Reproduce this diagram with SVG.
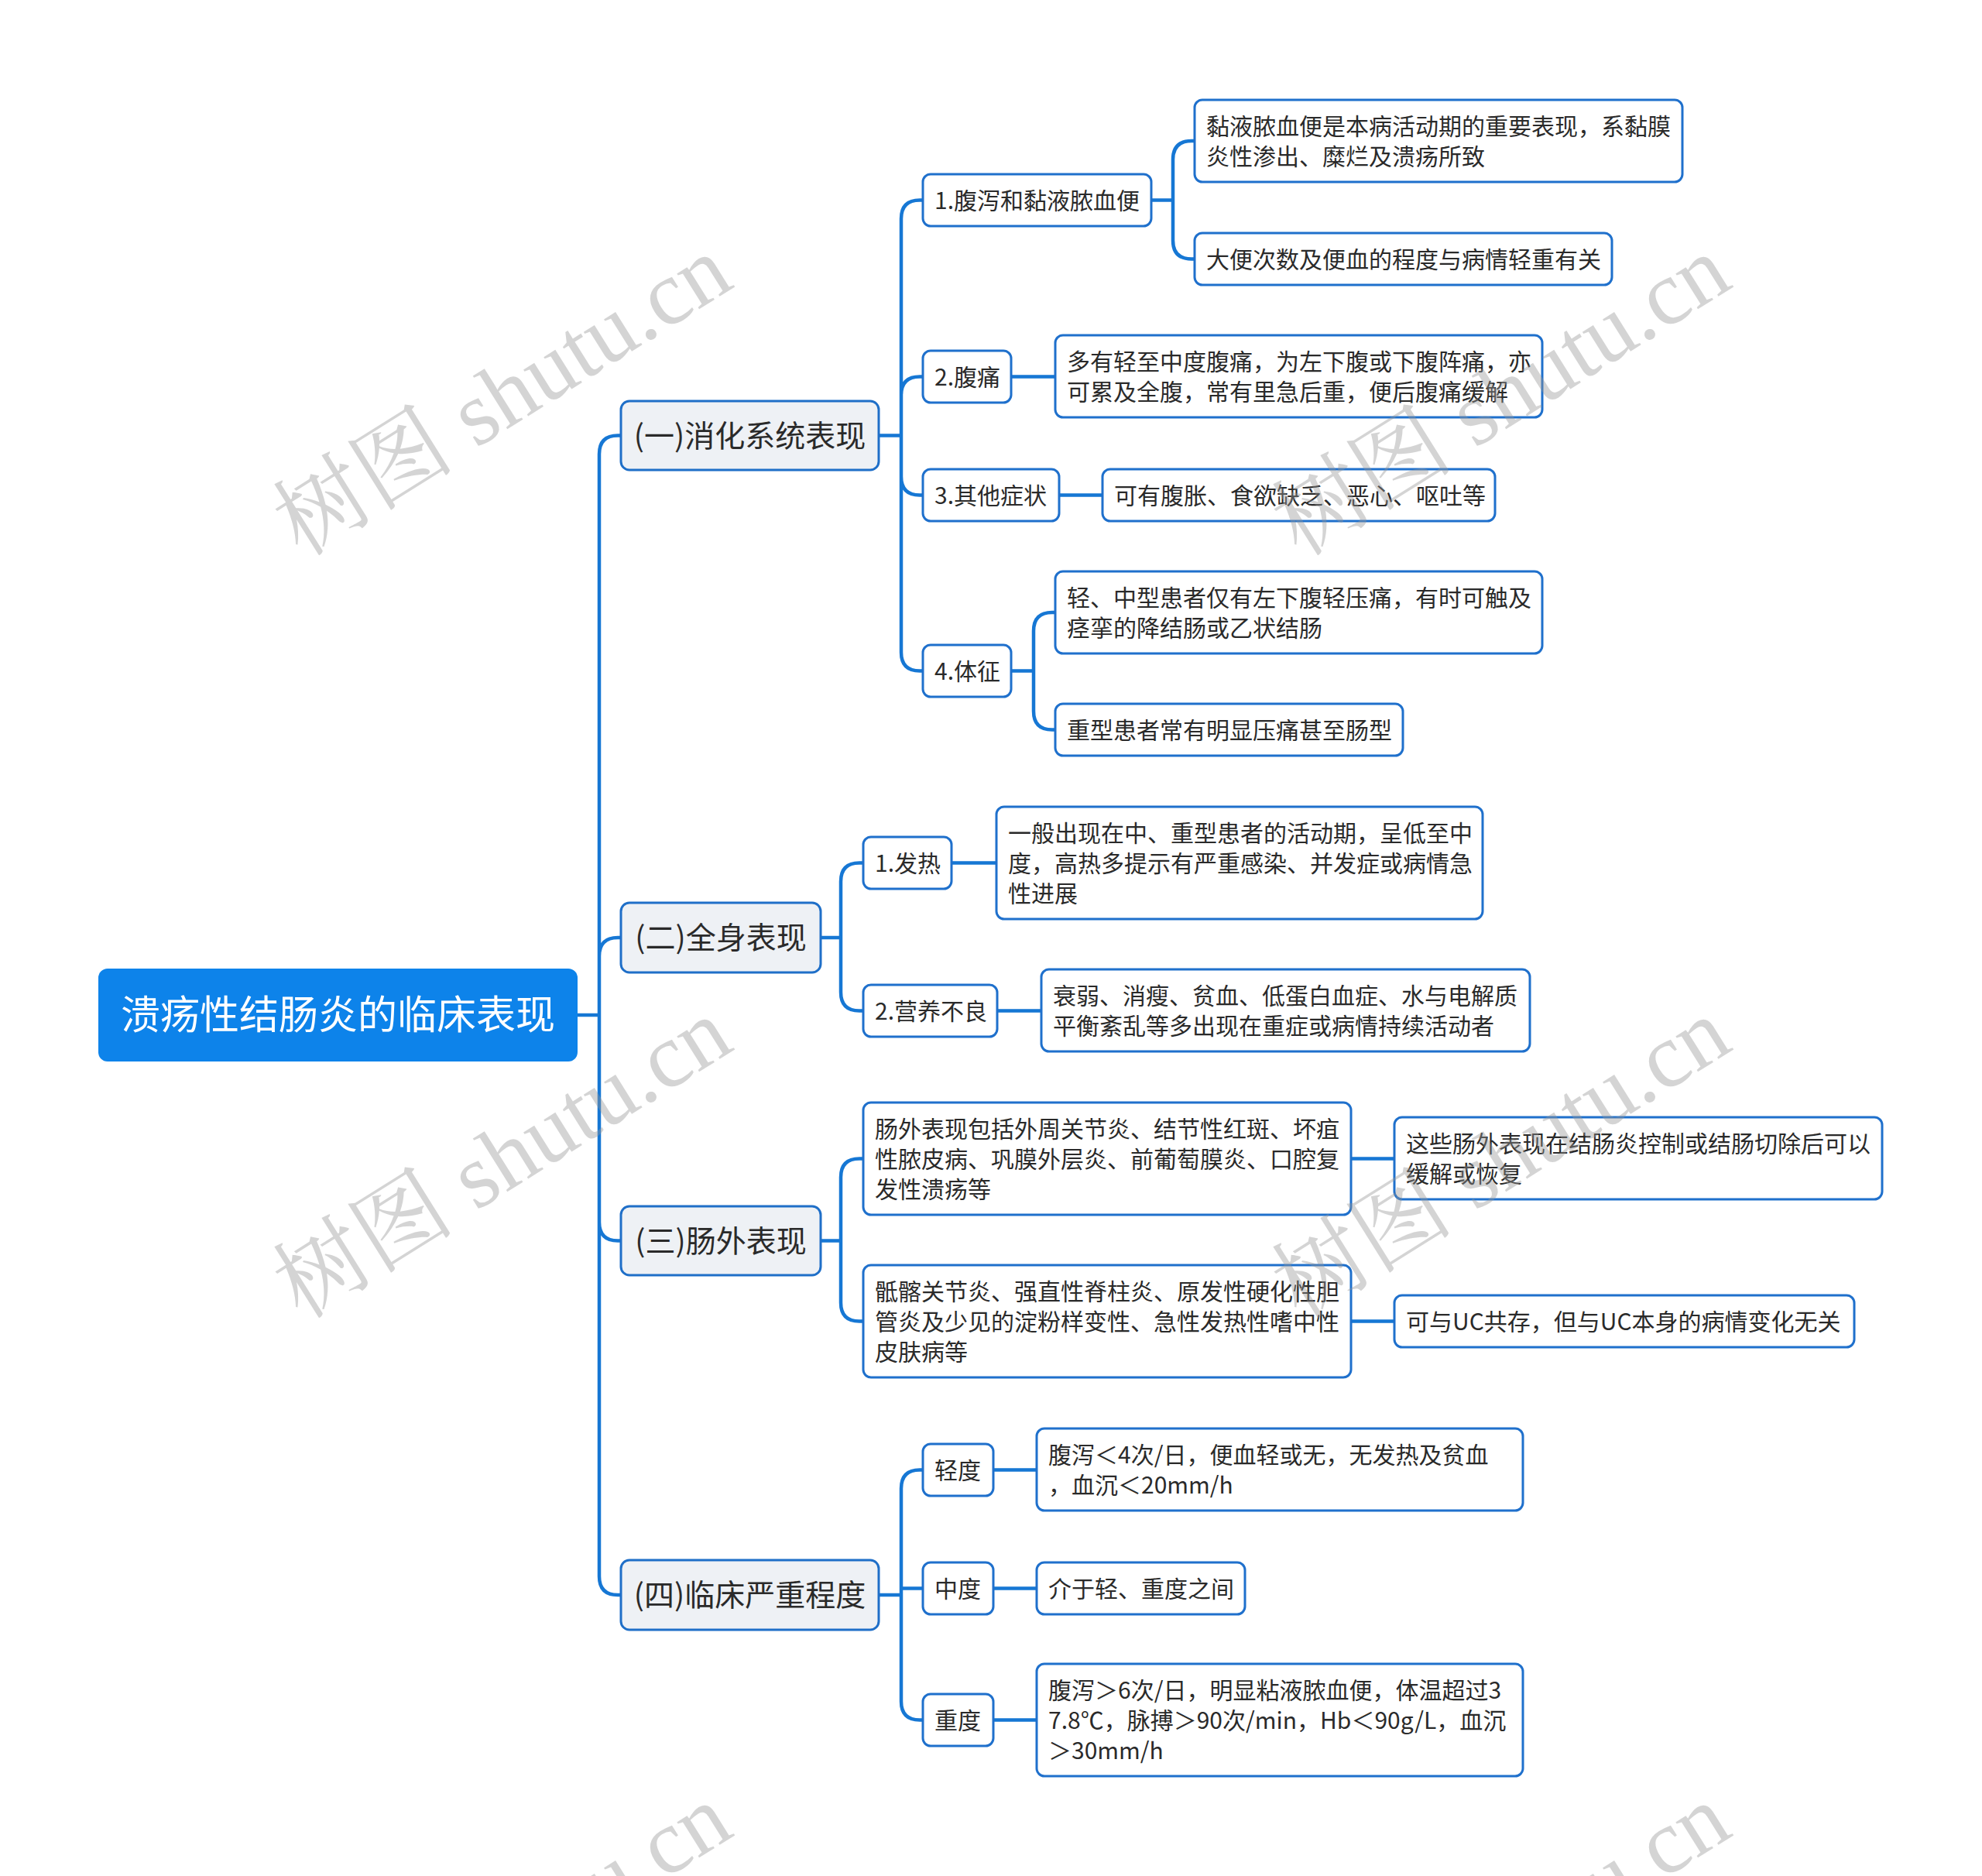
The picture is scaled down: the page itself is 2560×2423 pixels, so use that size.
<svg xmlns="http://www.w3.org/2000/svg" width="2560" height="2423" viewBox="0 0 2560 2423">
<style>
.root{fill:#0d83ea;}
.rt{fill:#ffffff;font-family:"Noto Sans CJK SC","Noto Sans",sans-serif;font-size:51px;}
.l1{fill:#eef1f5;stroke:#1f6fc8;stroke-width:3;}
.l1t{fill:#2a2a2a;font-family:"Noto Sans CJK SC","Noto Sans",sans-serif;font-size:39px;}
.nd{fill:#ffffff;stroke:#1f70cc;stroke-width:3;}
.t{fill:#2a2a2a;font-family:"Noto Sans CJK SC","Noto Sans",sans-serif;font-size:30px;}
.c{fill:none;stroke:#1677d4;stroke-width:4.5;stroke-linecap:round;}
.wm{fill:#969696;opacity:0.4;font-family:"Liberation Serif","Noto Serif CJK SC","Noto Sans CJK SC",serif;font-size:118px;}
</style>
<rect width="2560" height="2423" fill="#ffffff"/>

<g id="connectors">
<path class="c" d="M746,1311 H774 M774,1311 V586.5 Q774,562.5 798,562.5 H802 M774,1311 V1235 Q774,1211 798,1211 H802 M774,1311 V1578.5 Q774,1602.5 798,1602.5 H802 M774,1311 V2036 Q774,2060 798,2060 H802"/>
<path class="c" d="M1135,562.5 H1164 M1164,562.5 V282.5 Q1164,258.5 1188,258.5 H1192 M1164,562.5 V510.5 Q1164,486.5 1188,486.5 H1192 M1164,562.5 V615.5 Q1164,639.5 1188,639.5 H1192 M1164,562.5 V842.5 Q1164,866.5 1188,866.5 H1192"/>
<path class="c" d="M1487,258.5 H1515 M1515,258.5 V206 Q1515,182 1539,182 H1543 M1515,258.5 V310.5 Q1515,334.5 1539,334.5 H1543"/>
<path class="c" d="M1306,486.5 H1363"/>
<path class="c" d="M1368,639.5 H1424"/>
<path class="c" d="M1306,866.5 H1335 M1335,866.5 V815 Q1335,791 1359,791 H1363 M1335,866.5 V918.5 Q1335,942.5 1359,942.5 H1363"/>
<path class="c" d="M1060,1211 H1086 M1086,1211 V1138.5 Q1086,1114.5 1110,1114.5 H1115 M1086,1211 V1281.5 Q1086,1305.5 1110,1305.5 H1115"/>
<path class="c" d="M1229,1114.5 H1287"/>
<path class="c" d="M1288,1305.5 H1345"/>
<path class="c" d="M1060,1602.5 H1086 M1086,1602.5 V1520.5 Q1086,1496.5 1110,1496.5 H1115 M1086,1602.5 V1682.5 Q1086,1706.5 1110,1706.5 H1115"/>
<path class="c" d="M1745,1496.5 H1801"/>
<path class="c" d="M1745,1706.5 H1801"/>
<path class="c" d="M1135,2060 H1164 M1164,2060 V1922.5 Q1164,1898.5 1188,1898.5 H1192 M1164,2060 V2051.5 H1192 M1164,2060 V2197.5 Q1164,2221.5 1188,2221.5 H1192"/>
<path class="c" d="M1283,1898.5 H1339"/>
<path class="c" d="M1283,2051.5 H1339"/>
<path class="c" d="M1283,2221.5 H1339"/>
</g>

<g id="root"><rect class="root" x="127" y="1251" width="619" height="120" rx="12"/><text class="rt" x="436.5" y="1329" text-anchor="middle">溃疡性结肠炎的临床表现</text></g>

<g id="n-a"><rect class="l1" x="802" y="518" width="333" height="89" rx="11"/><text class="l1t" x="968.5" y="576.5" text-anchor="middle">(一)消化系统表现</text></g>
<g id="n-b"><rect class="l1" x="802" y="1166" width="258" height="90" rx="11"/><text class="l1t" x="931" y="1225" text-anchor="middle">(二)全身表现</text></g>
<g id="n-c"><rect class="l1" x="802" y="1558" width="258" height="89" rx="11"/><text class="l1t" x="931" y="1616.5" text-anchor="middle">(三)肠外表现</text></g>
<g id="n-d"><rect class="l1" x="802" y="2015" width="333" height="90" rx="11"/><text class="l1t" x="968.5" y="2074" text-anchor="middle">(四)临床严重程度</text></g>

<g id="n-a1"><rect class="nd" x="1192" y="225" width="295" height="67" rx="10"/><text class="t" x="1207" y="269.5">1.腹泻和黏液脓血便</text></g>
<g id="n-a2"><rect class="nd" x="1192" y="453" width="114" height="67" rx="10"/><text class="t" x="1207" y="497.5">2.腹痛</text></g>
<g id="n-a3"><rect class="nd" x="1192" y="606" width="176" height="67" rx="10"/><text class="t" x="1207" y="650.5">3.其他症状</text></g>
<g id="n-a4"><rect class="nd" x="1192" y="833" width="114" height="67" rx="10"/><text class="t" x="1207" y="877.5">4.体征</text></g>

<g id="n-a1a"><rect class="nd" x="1543" y="129" width="630" height="106" rx="10"/><text class="t" x="1558" y="173.5">黏液脓血便是本病活动期的重要表现，系黏膜</text><text class="t" x="1558" y="212.5">炎性渗出、糜烂及溃疡所致</text></g>
<g id="n-a1b"><rect class="nd" x="1543" y="301" width="539" height="67" rx="10"/><text class="t" x="1558" y="345.5">大便次数及便血的程度与病情轻重有关</text></g>
<g id="n-a2a"><rect class="nd" x="1363" y="433" width="629" height="106" rx="10"/><text class="t" x="1378" y="477.5">多有轻至中度腹痛，为左下腹或下腹阵痛，亦</text><text class="t" x="1378" y="516.5">可累及全腹，常有里急后重，便后腹痛缓解</text></g>
<g id="n-a3a"><rect class="nd" x="1424" y="606" width="507" height="67" rx="10"/><text class="t" x="1439" y="650.5">可有腹胀、食欲缺乏、恶心、呕吐等</text></g>
<g id="n-a4a"><rect class="nd" x="1363" y="738" width="629" height="106" rx="10"/><text class="t" x="1378" y="782.5">轻、中型患者仅有左下腹轻压痛，有时可触及</text><text class="t" x="1378" y="821.5">痉挛的降结肠或乙状结肠</text></g>
<g id="n-a4b"><rect class="nd" x="1363" y="909" width="449" height="67" rx="10"/><text class="t" x="1378" y="953.5">重型患者常有明显压痛甚至肠型</text></g>

<g id="n-b1"><rect class="nd" x="1115" y="1081" width="114" height="67" rx="10"/><text class="t" x="1130" y="1125.5">1.发热</text></g>
<g id="n-b2"><rect class="nd" x="1115" y="1272" width="173" height="67" rx="10"/><text class="t" x="1130" y="1316.5">2.营养不良</text></g>
<g id="n-b1a"><rect class="nd" x="1287" y="1042" width="628" height="145" rx="10"/><text class="t" x="1302" y="1086.5">一般出现在中、重型患者的活动期，呈低至中</text><text class="t" x="1302" y="1125.5">度，高热多提示有严重感染、并发症或病情急</text><text class="t" x="1302" y="1164.5">性进展</text></g>
<g id="n-b2a"><rect class="nd" x="1345" y="1252" width="631" height="106" rx="10"/><text class="t" x="1360" y="1296.5">衰弱、消瘦、贫血、低蛋白血症、水与电解质</text><text class="t" x="1360" y="1335.5">平衡紊乱等多出现在重症或病情持续活动者</text></g>

<g id="n-c1"><rect class="nd" x="1115" y="1424" width="630" height="145" rx="10"/><text class="t" x="1130" y="1468.5">肠外表现包括外周关节炎、结节性红斑、坏疽</text><text class="t" x="1130" y="1507.5">性脓皮病、巩膜外层炎、前葡萄膜炎、口腔复</text><text class="t" x="1130" y="1546.5">发性溃疡等</text></g>
<g id="n-c1a"><rect class="nd" x="1801" y="1443" width="630" height="106" rx="10"/><text class="t" x="1816" y="1487.5">这些肠外表现在结肠炎控制或结肠切除后可以</text><text class="t" x="1816" y="1526.5">缓解或恢复</text></g>
<g id="n-c2"><rect class="nd" x="1115" y="1634" width="630" height="145" rx="10"/><text class="t" x="1130" y="1678.5">骶髂关节炎、强直性脊柱炎、原发性硬化性胆</text><text class="t" x="1130" y="1717.5">管炎及少见的淀粉样变性、急性发热性嗜中性</text><text class="t" x="1130" y="1756.5">皮肤病等</text></g>
<g id="n-c2a"><rect class="nd" x="1801" y="1673" width="594" height="67" rx="10"/><text class="t" x="1816" y="1717.5">可与UC共存，但与UC本身的病情变化无关</text></g>

<g id="n-d1"><rect class="nd" x="1192" y="1865" width="91" height="67" rx="10"/><text class="t" x="1207" y="1909.5">轻度</text></g>
<g id="n-d2"><rect class="nd" x="1192" y="2018" width="91" height="67" rx="10"/><text class="t" x="1207" y="2062.5">中度</text></g>
<g id="n-d3"><rect class="nd" x="1192" y="2188" width="91" height="67" rx="10"/><text class="t" x="1207" y="2232.5">重度</text></g>
<g id="n-d1a"><rect class="nd" x="1339" y="1845" width="628" height="106" rx="10"/><text class="t" x="1354" y="1889.5">腹泻＜4次/日，便血轻或无，无发热及贫血</text><text class="t" x="1354" y="1928.5">，血沉＜20mm/h</text></g>
<g id="n-d2a"><rect class="nd" x="1339" y="2018" width="269" height="67" rx="10"/><text class="t" x="1354" y="2062.5">介于轻、重度之间</text></g>
<g id="n-d3a"><rect class="nd" x="1339" y="2149" width="628" height="145" rx="10"/><text class="t" x="1354" y="2193.5">腹泻＞6次/日，明显粘液脓血便，体温超过3</text><text class="t" x="1354" y="2232.5">7.8℃，脉搏＞90次/min，Hb＜90g/L，血沉</text><text class="t" x="1354" y="2271.5">＞30mm/h</text></g>

<g id="watermarks">
<text class="wm" x="670" y="545" text-anchor="middle" transform="rotate(-32 670 545)">树图 shutu.cn</text>
<text class="wm" x="1960" y="545" text-anchor="middle" transform="rotate(-32 1960 545)">树图 shutu.cn</text>
<text class="wm" x="670" y="1530" text-anchor="middle" transform="rotate(-32 670 1530)">树图 shutu.cn</text>
<text class="wm" x="1960" y="1530" text-anchor="middle" transform="rotate(-32 1960 1530)">树图 shutu.cn</text>
<text class="wm" x="670" y="2545" text-anchor="middle" transform="rotate(-32 670 2545)">树图 shutu.cn</text>
<text class="wm" x="1960" y="2545" text-anchor="middle" transform="rotate(-32 1960 2545)">树图 shutu.cn</text>
</g>
</svg>
